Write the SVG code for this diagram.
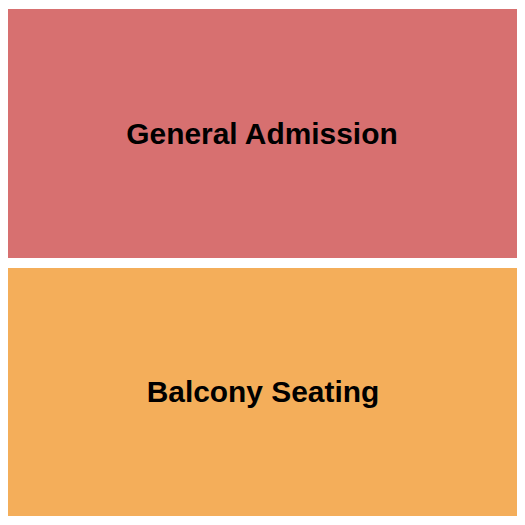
<svg xmlns="http://www.w3.org/2000/svg" width="525" height="525" viewBox="0 0 525 525">
<style>
.lbl{font-family:"Liberation Sans",Arial,sans-serif;font-weight:bold;font-size:29.9px;fill:#000;text-anchor:middle}
</style>
<rect width="525" height="525" fill="#fff"/>
<g id="general-admission">
<rect x="8" y="9" width="509" height="249" fill="#D77070"/>
<text class="lbl" x="262" y="144">General Admission</text>
</g>
<g id="balcony-seating">
<rect x="8" y="268" width="509" height="248" fill="#F4AE5A"/>
<text class="lbl" x="263" y="402">Balcony Seating</text>
</g>
<g id="connectors"></g>
</svg>
